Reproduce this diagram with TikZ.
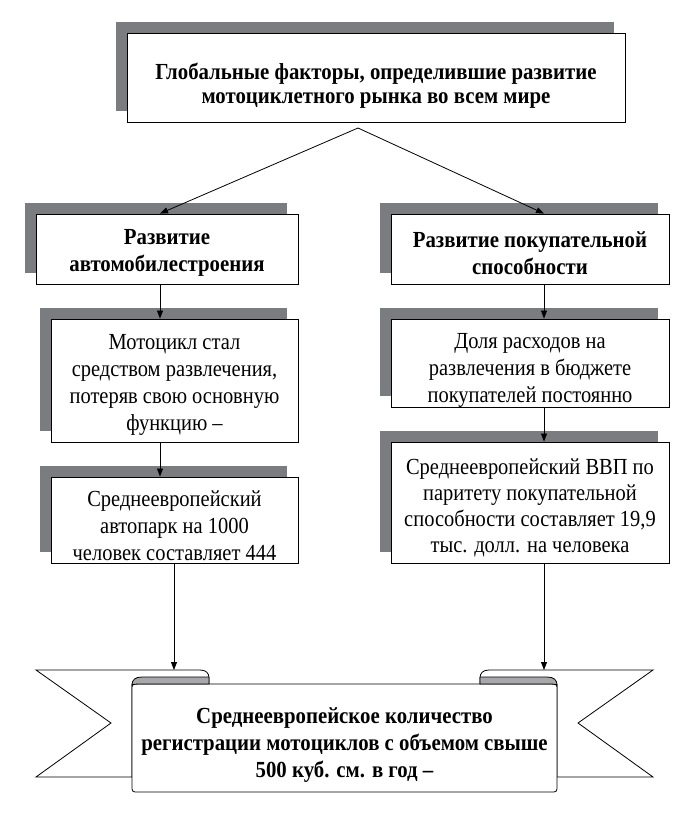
\documentclass[tikz,border=0pt]{standalone}
\usepackage{fontspec}
\setmainfont{Liberation Serif}[UprightFeatures={FakeStretch=0.89}, BoldFeatures={FakeStretch=0.905}]
\usetikzlibrary{arrows.meta,shadows}
\definecolor{shadowgrey}{RGB}{122,124,128}
\definecolor{rollgrey}{RGB}{168,168,170}
\tikzset{
  shadowbox/.style={draw=black, line width=0.9pt, fill=white, inner sep=0pt,
    drop shadow={shadow xshift=-11pt, shadow yshift=11pt, fill=shadowgrey, opacity=1}},
  boldtext/.style={align=center, font=\bfseries\fontsize{23}{27}\selectfont},
  plaintext/.style={align=center, font=\fontsize{23}{27}\selectfont},
  arr/.style={-{Triangle[length=8pt,width=6pt]}, line width=0.8pt},
  ribbonline/.style={draw=black, line width=0.8pt},
}
\begin{document}
\begin{tikzpicture}[x=1pt,y=-1pt]
\useasboundingbox (0,0) rectangle (679,840);
% top box
\node[shadowbox, minimum width=498pt, minimum height=89pt] (global) at (376,77.5) {};
\node[boldtext, font=\bfseries\fontsize{23}{24}\selectfont] (globaltext) at (376,86)
      {Глобальные факторы, определившие развитие\\мотоциклетного рынка во всем мире};
% left column
\node[shadowbox, minimum width=262pt, minimum height=70pt] (car) at (167,249) {};
\node[boldtext] (cartext) at (167,253)
      {Развитие\\автомобилестроения};
\node[shadowbox, minimum width=247pt, minimum height=123pt] (fun) at (174.5,380.5) {};
\node[plaintext] (funtext) at (174.5,385)
      {Мотоцикл стал\\средством развлечения,\\потеряв свою основную\\функцию –};
\node[shadowbox, minimum width=247pt, minimum height=86pt] (park) at (174.5,520) {};
\begin{scope}
  \clip (park.south west) rectangle (park.north east);
  \node[plaintext] (parktext) at (174.5,526)
        {Среднеевропейский\\автопарк на 1000\\человек составляет 444};
\end{scope}
% right column
\node[shadowbox, minimum width=278pt, minimum height=70pt] (buy) at (530,249) {};
\node[boldtext] (buytext) at (530,253)
      {Развитие покупательной\\способности};
\node[shadowbox, minimum width=278pt, minimum height=88pt] (share) at (530,363) {};
\begin{scope}
  \clip (share.south west) rectangle (share.north east);
  \node[plaintext] (sharetext) at (530,370)
        {Доля расходов на\\развлечения в бюджете\\покупателей постоянно};
\end{scope}
\node[shadowbox, minimum width=278pt, minimum height=121pt] (gdp) at (530,502.5) {};
\node[plaintext, font=\fontsize{23}{26}\selectfont] (gdptext) at (530,508)
      {Среднеевропейский ВВП по\\паритету покупательной\\способности составляет 19,9\\тыс. долл. на человека};
% ribbon
\draw[ribbonline, fill=white] (36,670) -- (200,670) .. controls (206,670) and (209,673) .. (209,678)
      -- (209,684) -- (132,684) -- (132,777) -- (36,777) -- (111,723) -- cycle;
\draw[ribbonline, fill=white] (653,670) -- (489,670) .. controls (483,670) and (480,673) .. (480,678)
      -- (480,684) -- (557,684) -- (557,777) -- (653,777) -- (578,723) -- cycle;
\node[ribbonline, fill=white, rounded corners=3pt, minimum width=425pt, minimum height=108pt] (goal) at (344.5,738) {};
\draw[ribbonline, fill=rollgrey] (209,684) -- (209,677) -- (142,677) .. controls (135,677) and (132,680) .. (132,685)
      .. controls (134,684) and (138,684) .. (142,684) -- cycle;
\draw[ribbonline, fill=rollgrey] (480,684) -- (480,677) -- (547,677) .. controls (554,677) and (557,680) .. (557,685)
      .. controls (555,684) and (551,684) .. (547,684) -- cycle;
\node[boldtext] (goaltext) at (344.5,745)
      {Среднеевропейское количество\\регистрации мотоциклов с объемом свыше\\500 куб. см. в год –};
% connectors
\coordinate (fork) at (358,128);
\coordinate (lcol) at (160,0);
\coordinate (lcol2) at (174,0);
\coordinate (rcol) at (544,0);
\coordinate (ltab) at (174,670);
\coordinate (rtab) at (544,670);
\draw[arr] (fork) -- (car.north -| lcol);
\draw[arr] (fork) -- (buy.north -| rcol);
\draw[arr] (car.south -| lcol) -- (fun.north -| lcol);
\draw[arr] (fun.south -| lcol) -- (park.north -| lcol);
\draw[arr] (park.south -| lcol2) -- (ltab);
\draw[arr] (buy.south -| rcol) -- (share.north -| rcol);
\draw[arr] (share.south -| rcol) -- (gdp.north -| rcol);
\draw[arr] (gdp.south -| rcol) -- (rtab);
\end{tikzpicture}
\end{document}
